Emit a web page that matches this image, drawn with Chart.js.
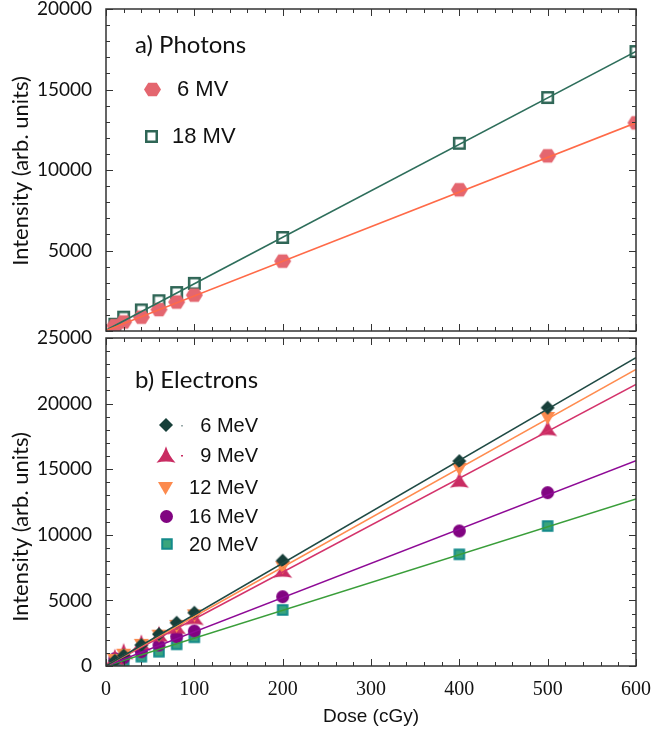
<!DOCTYPE html>
<html>
<head>
<meta charset="utf-8">
<script src="https://cdn.jsdelivr.net/npm/chart.js@4/dist/chart.umd.min.js"></script>
<style>
   body { margin: 0; background: #fff; }
   #wrap { position: relative; width: 653px; height: 733px; }
   canvas { position: absolute; left: 0; }
</style>
</head>
<body>
<div id="wrap">
   <canvas id="photons" width="653" height="340" style="top:0"></canvas>
   <canvas id="electrons" width="653" height="408" style="top:325px"></canvas>
</div>
<script>
// dose points (cGy)
const doses = [10, 20, 40, 60, 80, 100, 200, 400, 500, 600];
const eDoses = [10, 20, 40, 60, 80, 100, 200, 400, 500];

// a) photons
const mv6 = [330, 560, 860, 1330, 1800, 2230, 4340, 8770, 10880, 12930];
const mv18 = [420, 860, 1310, 1880, 2390, 2960, 5810, 11660, 14500, 17360];

// b) electrons
const mev6 = [400, 800, 1600, 2420, 3300, 4060, 8030, 15620, 19690];
const mev9 = [650, 1090, 1750, 2400, 3000, 3700, 7310, 14170, 18110];
const mev12 = [500, 900, 1650, 2350, 3100, 3900, 7570, 15060, 18950];
const mev16 = [560, 620, 1090, 1600, 2240, 2670, 5280, 10290, 13210];
const mev20 = [150, 200, 710, 1090, 1650, 2190, 4270, 8510, 10670];

// linear fit lines, read at 0 and 600 cGy
const fitDoses = [0, 600];
const fitMv6 = [30, 12930];
const fitMv18 = [50, 17370];
const fitMev6 = [0, 23500];
const fitMev9 = [0, 21460];
const fitMev12 = [0, 22610];
const fitMev16 = [0, 15650];
const fitMev20 = [0, 12730];

const xTicks = [0, 100, 200, 300, 400, 500, 600];
const yTicksTop = [5000, 10000, 15000, 20000];
const yTicksBottom = [0, 5000, 10000, 15000, 20000, 25000];

Chart.defaults.font.family = 'Lato';
Chart.defaults.color = '#111';

function pts(xs, ys) {
   return xs.map((x, i) => ({ x: x, y: ys[i] }));
}

function marker(kind, size, fill, stroke, lw) {
   const s = Math.round(size + 4);
   const c = document.createElement('canvas');
   c.width = s;
   c.height = s;
   const g = c.getContext('2d');
   g.translate(s / 2, s / 2);
   const r = size / 2;
   g.beginPath();
   if (kind === 'hex') {
      g.moveTo(-r, 0);
      g.lineTo(-r / 2, -r * 0.8);
      g.lineTo(r / 2, -r * 0.8);
      g.lineTo(r, 0);
      g.lineTo(r / 2, r * 0.8);
      g.lineTo(-r / 2, r * 0.8);
      g.closePath();
   } else if (kind === 'square') {
      g.rect(-r, -r, 2 * r, 2 * r);
   } else if (kind === 'diamond') {
      g.moveTo(0, -r);
      g.lineTo(r, 0);
      g.lineTo(0, r);
      g.lineTo(-r, 0);
      g.closePath();
   } else if (kind === 'down') {
      g.moveTo(-r, -r * 0.75);
      g.lineTo(r, -r * 0.75);
      g.lineTo(0, r);
      g.closePath();
   } else if (kind === 'circle') {
      g.arc(0, 0, r, 0, Math.PI * 2);
   } else if (kind === 'tristar') {
      const tip = a => [Math.cos(a) * r, Math.sin(a) * r + r * 0.2];
      for (let i = 0; i < 3; i++) {
         const a = -Math.PI / 2 + i * 2 * Math.PI / 3;
         const t1 = tip(a);
         const t2 = tip(a + 2 * Math.PI / 3);
         const cm = a + Math.PI / 3;
         if (i === 0) g.moveTo(t1[0], t1[1]);
         g.quadraticCurveTo(Math.cos(cm) * r * 0.3, Math.sin(cm) * r * 0.3 + r * 0.2, t2[0], t2[1]);
      }
      g.closePath();
   }
   if (fill) {
      g.fillStyle = fill;
      g.fill();
   }
   if (stroke) {
      g.strokeStyle = stroke;
      g.lineWidth = lw;
      g.stroke();
   }
   return c;
}

const hexMk = marker('hex', 17, '#e4666f');
const openSqMk = marker('square', 10.5, null, '#2f6656', 2.5);
const diamondMk = marker('diamond', 14, '#173f39');
const tristarMk = marker('tristar', 22, '#c92c62');
const downMk = marker('down', 15, '#fc8a4e');
const circleMk = marker('circle', 13, '#810481');
const tealSqMk = marker('square', 9.5, '#3aa57c', '#148a8a', 2);

const framePlugin = {
   id: 'frame',
   afterDatasetsDraw(chart) {
      const { ctx, chartArea: a, scales: { x, y } } = chart;
      ctx.save();
      ctx.strokeStyle = '#333';
      ctx.lineWidth = 1.5;
      ctx.strokeRect(a.left, a.top, a.right - a.left, a.bottom - a.top);
      ctx.lineWidth = 1;
      ctx.beginPath();
      for (let v = x.min; v <= x.max; v += 20) {
         const px = Math.round(x.getPixelForValue(v)) + 0.5;
         const len = v % 100 === 0 ? 7 : 4;
         ctx.moveTo(px, a.bottom);
         ctx.lineTo(px, a.bottom - len);
         ctx.moveTo(px, a.top);
         ctx.lineTo(px, a.top + len);
      }
      for (let v = y.min; v <= y.max; v += 1000) {
         const py = Math.round(y.getPixelForValue(v)) + 0.5;
         const len = v % 5000 === 0 ? 7 : 4;
         ctx.moveTo(a.left, py);
         ctx.lineTo(a.left + len, py);
         ctx.moveTo(a.right, py);
         ctx.lineTo(a.right - len, py);
      }
      ctx.stroke();
      ctx.restore();
   }
};

function notesPlugin(title, titleY, yTitleCenter, entries) {
   return {
      id: 'notes',
      afterDraw(chart) {
         const ctx = chart.ctx;
         ctx.save();
         ctx.fillStyle = '#111';
         ctx.textBaseline = 'middle';
         ctx.font = '24px Lato';
         ctx.textAlign = 'left';
         ctx.fillText(title, 135, titleY);

         ctx.save();
         ctx.translate(21, yTitleCenter);
         ctx.rotate(-Math.PI / 2);
         ctx.textAlign = 'center';
         ctx.font = '22px Lato';
         ctx.fillText('Intensity (arb. units)', 0, 0);
         ctx.restore();

         entries.forEach(e => {
            ctx.drawImage(e.mk, Math.round(e.mx - e.mk.width / 2), Math.round(e.y - e.mk.height / 2));
            if (e.dash) {
               ctx.fillStyle = e.dash;
               ctx.fillRect(e.mx + 15, e.y, 2, 1.5);
            }
            ctx.fillStyle = '#111';
            ctx.font = e.font;
            ctx.textAlign = e.align;
            ctx.fillText(e.text, e.tx, e.y + 1);
         });
         ctx.restore();
      }
   };
}

function yAxis(min, max, ticks) {
   return {
      type: 'linear',
      min: min,
      max: max,
      afterFit: s => {
         s.width = 106;
         s.paddingTop = 0;
         s.paddingBottom = 0;
      },
      afterBuildTicks: s => { s.ticks = ticks.map(v => ({ value: v })); },
      grid: { display: false },
      border: { display: false },
      ticks: {
         padding: 6,
         color: '#111',
         font: { family: 'Lato', size: 19 },
         callback: v => String(v)
      }
   };
}

function fitLine(ys, color) {
   return {
      data: pts(fitDoses, ys),
      showLine: true,
      borderColor: color,
      borderWidth: 1.6,
      pointRadius: 0,
      clip: 0
   };
}

function markers(xs, ys, mk) {
   return {
      data: pts(xs, ys),
      showLine: false,
      pointStyle: mk,
      pointRadius: 8,
      clip: 0
   };
}

new Chart(document.getElementById('photons'), {
   type: 'scatter',
   data: {
      datasets: [
         fitLine(fitMv6, '#ff6a48'),
         fitLine(fitMv18, '#2e6e5b'),
         markers(doses, mv6, hexMk),
         markers(doses, mv18, openSqMk)
      ]
   },
   options: {
      responsive: false,
      animation: false,
      layout: { padding: { top: 8, right: 17, bottom: 6, left: 0 } },
      plugins: { legend: { display: false }, tooltip: { enabled: false } },
      scales: {
         x: { type: 'linear', display: false, min: 0, max: 600 },
         y: yAxis(0, 20000, yTicksTop)
      }
   },
   plugins: [framePlugin, notesPlugin('a) Photons', 45, 171, [
      { mk: hexMk, mx: 152, y: 89, text: '6 MV', tx: 177, align: 'left', font: '22px "Liberation Sans"' },
      { mk: openSqMk, mx: 151, y: 136, text: '18 MV', tx: 172, align: 'left', font: '22px "Liberation Sans"' }
   ])]
});

new Chart(document.getElementById('electrons'), {
   type: 'scatter',
   data: {
      datasets: [
         fitLine(fitMev6, '#1f4a44'),
         fitLine(fitMev12, '#ff8c4f'),
         fitLine(fitMev9, '#d4336b'),
         fitLine(fitMev16, '#8e0a96'),
         fitLine(fitMev20, '#3a9e3a'),
         markers(eDoses, mev6, diamondMk),
         markers(eDoses, mev12, downMk),
         markers(eDoses, mev9, tristarMk),
         markers(eDoses, mev16, circleMk),
         markers(eDoses, mev20, tealSqMk)
      ]
   },
   options: {
      responsive: false,
      animation: false,
      layout: { padding: { top: 13, right: 17, bottom: 0, left: 0 } },
      plugins: { legend: { display: false }, tooltip: { enabled: false } },
      scales: {
         x: {
            type: 'linear',
            min: 0,
            max: 600,
            afterFit: s => {
               s.height = 67;
               s.paddingLeft = 0;
               s.paddingRight = 0;
            },
            afterBuildTicks: s => { s.ticks = xTicks.map(v => ({ value: v })); },
            grid: { display: false },
            border: { display: false },
            ticks: {
               padding: 4,
               maxRotation: 0,
               color: '#111',
               font: { family: 'Liberation Serif', size: 20 },
               callback: v => String(v)
            },
            title: {
               display: true,
               text: 'Dose (cGy)',
               color: '#111',
               font: { family: 'Liberation Sans', size: 19 },
               padding: { top: 4, bottom: 5 }
            }
         },
         y: yAxis(0, 25000, yTicksBottom)
      }
   },
   plugins: [framePlugin, notesPlugin('b) Electrons', 55, 202, [
      { mk: diamondMk, mx: 166, y: 100, text: '6 MeV', tx: 258, align: 'right', font: '20px "Liberation Sans"', dash: '#9aa' },
      { mk: tristarMk, mx: 166, y: 130, text: '9 MeV', tx: 258, align: 'right', font: '20px "Liberation Sans"', dash: '#c92c62' },
      { mk: downMk, mx: 165, y: 162, text: '12 MeV', tx: 258, align: 'right', font: '20px "Liberation Sans"' },
      { mk: circleMk, mx: 166, y: 191, text: '16 MeV', tx: 258, align: 'right', font: '20px "Liberation Sans"' },
      { mk: tealSqMk, mx: 167, y: 219, text: '20 MeV', tx: 258, align: 'right', font: '20px "Liberation Sans"' }
   ])]
});
</script>
</body>
</html>
